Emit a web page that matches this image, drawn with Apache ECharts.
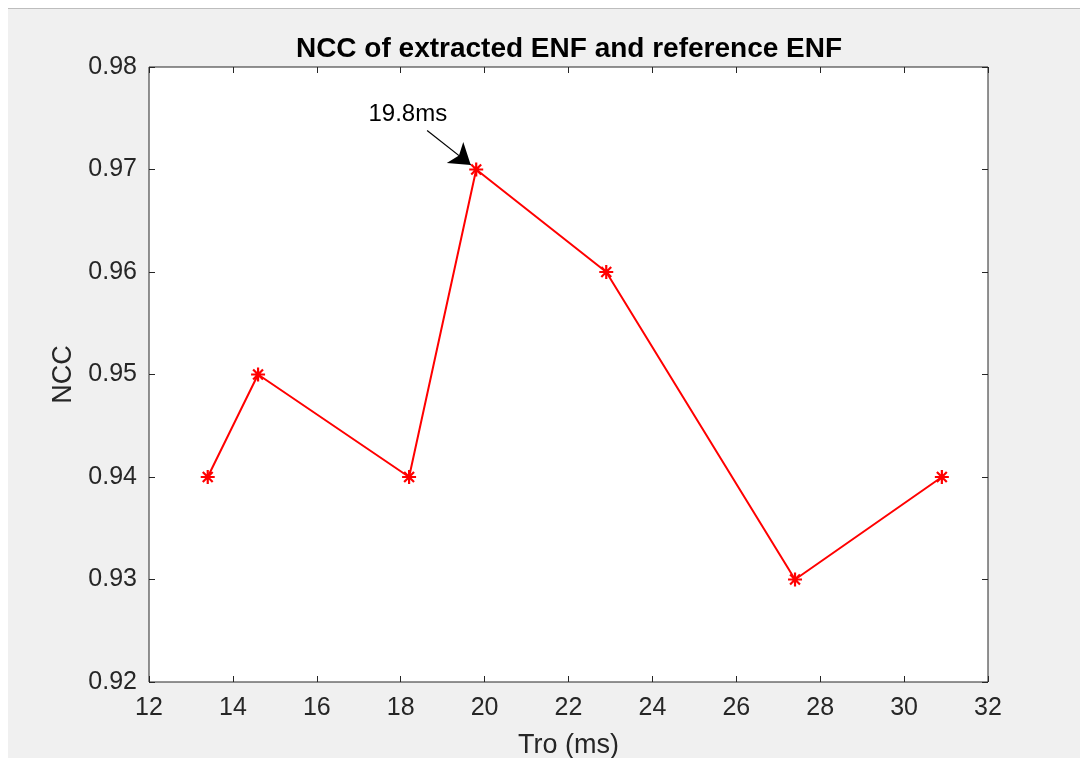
<!DOCTYPE html>
<html>
<head>
<meta charset="utf-8">
<script src="https://cdn.jsdelivr.net/npm/echarts@6/dist/echarts.min.js"></script>
<style>
html,body{margin:0;padding:0;background:#fff;}
#c{width:1080px;height:758px;}
</style>
</head>
<body>
<div id="c"></div>
<script>
// ---- data ----
const troMs = [13.4, 14.6, 18.2, 19.8, 22.9, 27.4, 30.9];
const nccValues = [0.94, 0.95, 0.94, 0.97, 0.96, 0.93, 0.94];
const xTicks = [12, 14, 16, 18, 20, 22, 24, 26, 28, 30, 32];
const yTicks = [0.92, 0.93, 0.94, 0.95, 0.96, 0.97, 0.98];
const titleText = 'NCC of extracted ENF and reference ENF';
const xName = 'Tro (ms)';
const yName = 'NCC';
const annotationText = '19.8ms';
const annotationTextAt = [18.17, 0.9754];
const arrowFrom = [18.63, 0.9738];
const arrowTo = [19.67, 0.97045];

const FONT = '"Liberation Sans", Arial, Helvetica, sans-serif';
const AX = '#262626';
const asterisk = 'path://M0,-10L0,10M-10,0L10,0M-7.07,-7.07L7.07,7.07M-7.07,7.07L7.07,-7.07';

const chart = echarts.init(document.getElementById('c'), null, {renderer: 'canvas'});
const xMin = xTicks[0], xMax = xTicks[xTicks.length - 1];
const yMin = yTicks[0], yMax = yTicks[yTicks.length - 1];
const xStep = xTicks[1] - xTicks[0];
const yStep = +(yTicks[1] - yTicks[0]).toFixed(4);

const commonX = {
  type: 'value', min: xMin, max: xMax, interval: xStep,
  axisLine: {show: false},
  splitLine: {show: false},
  axisTick: {show: true, inside: true, length: 6, lineStyle: {color: AX, width: 1}}
};
const commonY = {
  type: 'value', min: yMin, max: yMax, interval: yStep,
  axisLine: {show: false},
  splitLine: {show: false},
  axisTick: {show: true, inside: true, length: 6, lineStyle: {color: AX, width: 1}}
};

chart.setOption({
  backgroundColor: '#ffffff',
  animation: false,
  graphic: [
    {type: 'rect', shape: {x: 8, y: 8, width: 1072, height: 750}, style: {fill: '#f0f0f0'}, z: -10},
    {type: 'line', shape: {x1: 8, y1: 8.5, x2: 1080, y2: 8.5}, style: {stroke: '#bdbdbd', lineWidth: 1}, z: -9}
  ],
  title: {
    text: titleText,
    left: 564, top: 30, textAlign: 'center',
    textStyle: {fontFamily: FONT, fontWeight: 'bold', fontSize: 28, color: '#000'}
  },
  grid: {
    left: 149, right: 92, top: 67, bottom: 76,
    outerBoundsMode: 'none',
    containLabel: false,
    show: true, backgroundColor: '#ffffff', borderColor: AX, borderWidth: 1
  },
  xAxis: [
    Object.assign({}, commonX, {
      position: 'bottom',
      name: xName, nameLocation: 'middle', nameGap: 50,
      nameTextStyle: {fontFamily: FONT, fontSize: 27, color: AX},
      axisLabel: {show: true, margin: 14, fontFamily: FONT, fontSize: 25, color: AX}
    }),
    Object.assign({}, commonX, {position: 'top', axisLabel: {show: false}})
  ],
  yAxis: [
    Object.assign({}, commonY, {
      position: 'left',
      name: yName, nameLocation: 'middle', nameGap: 70,
      nameTextStyle: {fontFamily: FONT, fontSize: 27, color: AX},
      axisLabel: {show: true, margin: 12, fontFamily: FONT, fontSize: 25, color: AX,
        formatter: v => v.toFixed(2)}
    }),
    Object.assign({}, commonY, {position: 'right', axisLabel: {show: false}})
  ],
  series: [{
    type: 'line',
    xAxisIndex: 0, yAxisIndex: 0,
    data: troMs.map((x, i) => [x, nccValues[i]]),
    lineStyle: {color: '#ff0000', width: 2},
    itemStyle: {color: '#ff0000', borderColor: '#ff0000', borderWidth: 2.2},
    symbol: asterisk, symbolSize: 14,
    showSymbol: true,
    markLine: {
      silent: true,
      symbol: ['none', 'arrow'], symbolSize: 20,
      lineStyle: {color: '#000', width: 1.2, type: 'solid'},
      itemStyle: {color: '#000'},
      label: {show: false},
      data: [[{coord: arrowFrom}, {coord: arrowTo}]]
    },
    markPoint: {
      silent: true,
      symbol: 'circle', symbolSize: 0,
      label: {show: true, formatter: annotationText, position: 'inside',
        fontFamily: FONT, fontSize: 24, color: '#000'},
      data: [{coord: annotationTextAt}]
    }
  }]
});
</script>
</body>
</html>
